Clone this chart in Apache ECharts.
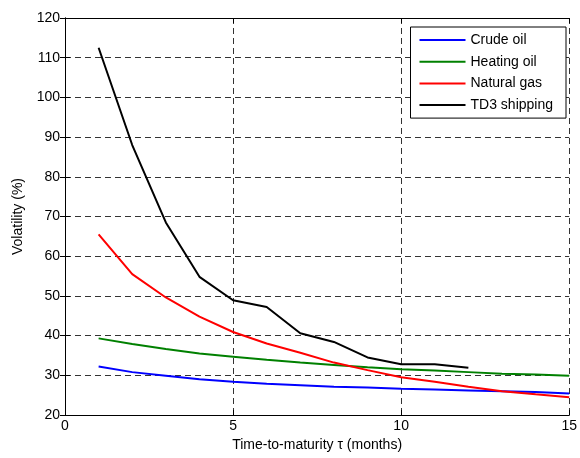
<!DOCTYPE html>
<html>
<head>
<meta charset="utf-8">
<script src="https://cdn.jsdelivr.net/npm/echarts@6/dist/echarts.min.js"></script>
<style>
  html, body { margin: 0; padding: 0; background: #fff; }
  #chart { width: 580px; height: 458px; }
</style>
</head>
<body>
<div id="chart"></div>
<script>
// Term structure of volatility by time-to-maturity (months)
const maturities = [1, 2, 3, 4, 5, 6, 7, 8, 9, 10, 11, 12, 13, 14, 15];
const crudeOil   = [32.2, 30.8, 29.9, 29.0, 28.4, 27.9, 27.5, 27.1, 26.9, 26.6, 26.4, 26.2, 26.0, 25.8, 25.4];
const heatingOil = [39.3, 37.9, 36.6, 35.5, 34.7, 33.9, 33.2, 32.6, 32.0, 31.5, 31.2, 30.8, 30.4, 30.2, 29.9];
const naturalGas = [65.5, 55.5, 49.6, 44.8, 40.9, 38.0, 35.7, 33.2, 31.3, 29.5, 28.4, 27.1, 26.0, 25.2, 24.5];
const td3Maturities = [1, 2, 3, 4, 5, 6, 7, 8, 9, 10, 11, 12];
const td3Shipping = [112.5, 88.0, 68.5, 54.8, 48.9, 47.2, 40.6, 38.4, 34.5, 32.8, 32.8, 31.9];
const seriesNames = ['Crude oil', 'Heating oil', 'Natural gas', 'TD3 shipping'];
const seriesColors = ['#0000ff', '#008000', '#ff0000', '#000000'];

const pairs = (xs, ys) => ys.map((y, i) => [xs[i], y]);
const seriesData = [
  pairs(maturities, crudeOil),
  pairs(maturities, heatingOil),
  pairs(maturities, naturalGas),
  pairs(td3Maturities, td3Shipping)
];

const font = 'Liberation Sans, Arial, sans-serif';
const fontSize = 14;
const gridDash = { color: '#333', type: [6, 4], width: 1 };
const tickInside = { show: true, inside: true, length: 5, lineStyle: { color: '#000' } };

const chart = echarts.init(document.getElementById('chart'), null, { renderer: 'canvas' });
chart.setOption({
  animation: false,
  backgroundColor: '#fff',
  textStyle: { fontFamily: font },
  grid: { left: 65, right: 9.5, top: 18, bottom: 43, containLabel: false },
  legend: {
    data: seriesNames,
    right: 14,
    top: 27,
    orient: 'vertical',
    icon: 'rect',
    backgroundColor: '#fff',
    borderColor: '#000',
    borderWidth: 1,
    borderRadius: 0,
    padding: [6, 13, 6, 9],
    itemWidth: 46,
    itemHeight: 2,
    itemGap: 7.7,
    textStyle: { fontFamily: font, fontSize: fontSize, color: '#000', padding: [0, 0, 0, 0] }
  },
  xAxis: [
    {
      type: 'value', min: 0, max: 15, interval: 5,
      name: 'Time-to-maturity τ (months)',
      nameLocation: 'middle', nameGap: 20,
      nameTextStyle: { fontFamily: font, fontSize: fontSize, color: '#000' },
      axisLine: { show: true, lineStyle: { color: '#000' } },
      axisTick: tickInside,
      axisLabel: { fontFamily: font, fontSize: fontSize, color: '#000', margin: 4 },
      splitLine: { show: true, lineStyle: gridDash }
    },
    {
      type: 'value', min: 0, max: 15, interval: 5, position: 'top',
      axisLine: { show: true, lineStyle: { color: '#000' } },
      axisTick: tickInside,
      axisLabel: { show: false },
      splitLine: { show: false }
    }
  ],
  yAxis: [
    {
      type: 'value', min: 20, max: 120, interval: 10,
      name: 'Volatility (%)',
      nameLocation: 'middle', nameGap: 40,
      nameTextStyle: { fontFamily: font, fontSize: fontSize, color: '#000' },
      axisLine: { show: true, lineStyle: { color: '#000' } },
      axisTick: tickInside,
      axisLabel: { fontFamily: font, fontSize: fontSize, color: '#000', margin: 5 },
      splitLine: { show: true, lineStyle: gridDash }
    },
    {
      type: 'value', min: 20, max: 120, interval: 10, position: 'right',
      axisLine: { show: true, lineStyle: { color: '#000' } },
      axisTick: tickInside,
      axisLabel: { show: false },
      splitLine: { show: false }
    }
  ],
  series: seriesNames.map((name, i) => ({
    name,
    type: 'line',
    xAxisIndex: 0,
    yAxisIndex: 0,
    data: seriesData[i],
    symbol: 'none',
    color: seriesColors[i],
    lineStyle: { color: seriesColors[i], width: 2 },
    z: 3 + i
  }))
});
</script>
</body>
</html>
